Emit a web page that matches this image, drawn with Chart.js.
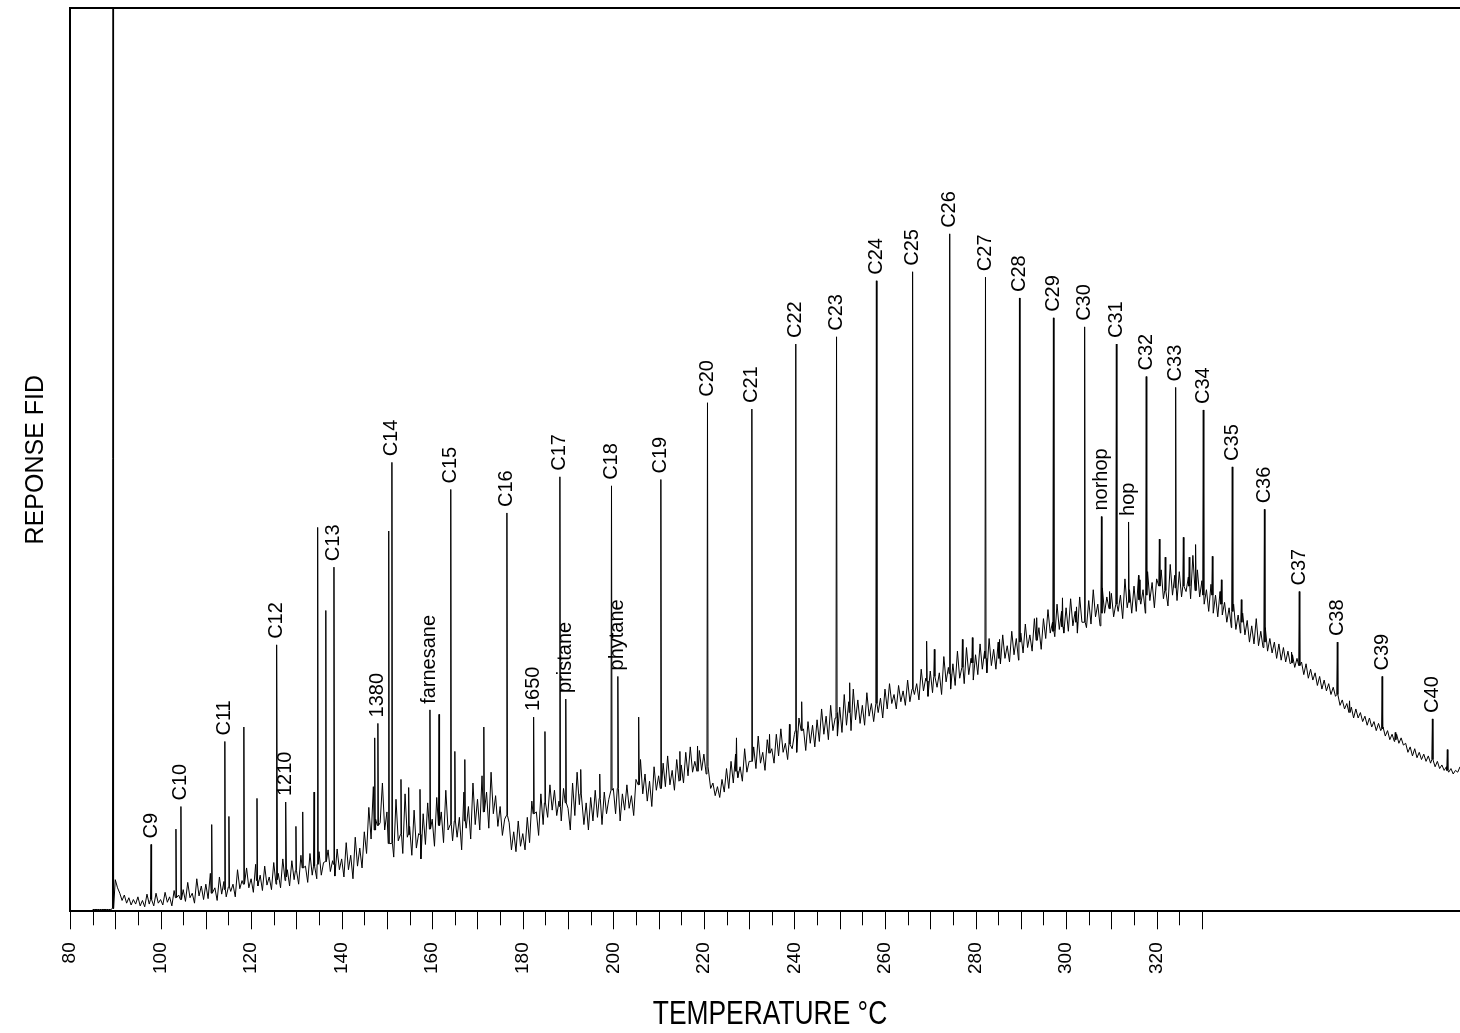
<!DOCTYPE html>
<html>
<head>
<meta charset="utf-8">
<script src="https://cdn.jsdelivr.net/npm/chart.js@4.4.1/dist/chart.umd.min.js"></script>
<style>
  html, body { margin: 0; padding: 0; background: #fff; }
</style>
</head>
<body>
<canvas id="gc" width="1460" height="1033"></canvas>
<script>
// ---------------------------------------------------------------- data
// FID signal, one value every half degree from 85 degC
const traceStart = 85
const traceStep = 0.5
const traceValues = [
  0.2, 0.2, 0.2, 0.2, 0.2, 0.2, 0.2, 0.2, 0.2, 0.3,
  3.5, 2.6, 2.0, 1.2, 1.8, 0.9, 1.5, 0.7, 1.3, 0.8,
  1.6, 0.6, 1.2, 0.5, 1.9, 0.8, 1.4, 0.6, 2.0, 0.9,
  1.3, 0.7, 2.1, 1.0, 1.6, 0.6, 2.3, 1.2, 1.8, 0.9,
  2.4, 1.1, 3.2, 1.5, 2.0, 0.9, 3.6, 1.7, 2.8, 1.3,
  3.0, 1.4, 4.2, 2.0, 2.6, 1.2, 3.8, 1.9, 3.3, 1.6,
  4.4, 2.2, 3.0, 1.6, 4.6, 2.5, 3.4, 1.8, 4.8, 2.6,
  3.6, 2.1, 5.2, 2.8, 4.0, 2.3, 5.0, 2.9, 3.8, 2.4,
  5.4, 3.0, 4.2, 2.6, 5.8, 3.4, 4.6, 2.8, 5.6, 3.5,
  4.4, 3.0, 6.2, 3.6, 5.0, 3.2, 6.4, 4.0, 5.2, 3.6,
  6.6, 4.0, 5.4, 3.8, 6.8, 4.4, 5.6, 3.9, 6.9, 4.6,
  5.8, 3.8, 7.6, 4.6, 6.2, 3.6, 8.2, 5.0, 7.0, 4.8,
  8.8, 6.4, 11.5, 8.0, 13.8, 10.2, 15.5, 9.8, 14.2, 9.0,
  11.0, 7.2, 9.6, 6.0, 12.4, 7.8, 10.6, 6.4, 13.0, 8.2,
  9.4, 6.2, 11.2, 7.0, 8.6, 5.8, 10.8, 7.4, 12.0, 8.0,
  10.2, 7.2, 12.6, 8.4, 11.0, 7.6, 13.4, 9.0, 10.6, 7.8,
  12.8, 8.2, 10.4, 6.8, 13.2, 9.2, 11.6, 8.0, 14.2, 9.6,
  12.4, 9.0, 15.0, 10.4, 13.2, 9.2, 15.4, 10.8, 12.8, 9.4,
  11.6, 8.4, 10.2, 7.4, 9.8, 6.8, 8.8, 6.6, 10.0, 7.2,
  8.6, 6.8, 10.4, 7.6, 12.2, 8.8, 11.0, 8.4, 13.0, 9.6,
  12.8, 10.4, 14.0, 11.2, 13.4, 10.6, 12.2, 10.0, 13.6, 11.0,
  11.4, 9.0, 14.2, 10.6, 15.4, 11.8, 13.0, 9.6, 12.0, 9.0,
  12.6, 10.0, 13.4, 10.4, 11.6, 9.6, 13.2, 10.8, 12.4, 10.2,
  13.6, 10.8, 12.2, 10.0, 13.0, 11.2, 14.0, 11.4, 12.8, 10.6,
  14.6, 12.0, 16.8, 13.0, 15.2, 12.2, 14.4, 11.6, 16.0, 13.4,
  15.0, 13.2, 16.4, 13.8, 17.2, 14.0, 15.6, 13.4, 16.8, 14.4,
  16.2, 14.2, 17.6, 15.0, 18.2, 15.4, 16.6, 14.6, 17.8, 15.6,
  17.4, 15.2, 16.0, 13.6, 14.2, 12.8, 13.8, 12.6, 14.6, 13.2,
  15.8, 13.6, 16.6, 14.2, 17.4, 14.8, 16.0, 14.4, 18.0, 15.4,
  16.6, 15.0, 18.2, 15.8, 19.4, 16.4, 17.6, 15.6, 19.0, 16.8,
  18.0, 16.4, 19.6, 17.2, 20.2, 17.6, 18.6, 16.8, 20.4, 18.0,
  19.6, 17.6, 21.4, 18.4, 20.2, 17.8, 21.0, 18.6, 20.6, 18.2,
  21.2, 18.8, 22.4, 19.6, 21.6, 19.0, 22.8, 20.0, 21.4, 19.4,
  22.6, 19.8, 24.0, 20.6, 23.2, 20.0, 24.6, 21.2, 23.4, 20.8,
  22.8, 20.6, 24.2, 21.6, 23.0, 21.0, 24.8, 22.0, 23.6, 21.4,
  24.6, 22.4, 25.2, 23.0, 24.0, 22.4, 25.0, 23.2, 24.4, 22.8,
  25.6, 23.2, 26.4, 24.0, 25.2, 23.4, 26.8, 24.4, 25.8, 23.8,
  26.6, 24.2, 27.8, 24.8, 26.4, 24.0, 28.2, 25.4, 27.0, 24.6,
  27.4, 25.0, 28.8, 25.8, 27.2, 25.2, 29.2, 26.2, 28.0, 25.6,
  28.4, 26.2, 29.6, 26.8, 28.8, 26.4, 30.2, 27.2, 29.0, 26.8,
  29.8, 27.4, 30.6, 28.0, 29.4, 27.6, 31.0, 28.4, 30.2, 27.8,
  30.8, 28.6, 31.8, 29.2, 30.6, 28.8, 32.4, 29.8, 31.4, 29.0,
  32.4, 30.2, 33.4, 30.8, 32.0, 30.4, 34.0, 31.2, 33.2, 30.8,
  33.6, 31.0, 34.6, 31.6, 33.2, 30.8, 34.8, 32.0, 33.8, 31.4,
  34.4, 31.8, 35.6, 32.6, 34.0, 31.6, 35.8, 33.0, 34.8, 32.2,
  35.2, 32.6, 36.4, 33.2, 35.0, 32.4, 36.8, 33.6, 35.6, 33.0,
  36.0, 33.2, 37.2, 34.0, 35.6, 33.0, 37.6, 34.4, 36.4, 33.6,
  36.8, 34.0, 37.8, 34.6, 36.2, 33.8, 38.4, 35.0, 37.2, 34.4,
  37.6, 34.8, 38.8, 35.4, 37.0, 34.6, 39.4, 35.6, 37.8, 34.8,
  36.6, 34.0, 35.6, 33.2, 36.2, 33.0, 35.0, 32.6, 35.4, 32.8,
  34.2, 32.0, 33.6, 31.4, 34.0, 31.2, 32.8, 30.8, 33.0, 30.6,
  32.2, 29.8, 31.6, 29.6, 32.4, 29.4, 31.0, 29.2, 31.4, 28.8,
  30.2, 28.6, 29.8, 28.0, 29.6, 27.8, 29.2, 27.6, 28.8, 27.4,
  28.4, 27.0, 28.0, 26.6, 27.6, 26.2, 27.4, 25.8, 26.8, 25.6,
  26.4, 25.0, 26.0, 24.6, 25.6, 24.4, 25.2, 24.0, 24.8, 23.8,
  24.0, 22.8, 23.4, 22.4, 23.0, 21.8, 22.6, 21.4, 22.4, 21.4,
  22.0, 21.0, 21.6, 20.6, 21.4, 20.4, 21.0, 20.0, 20.8, 20.0,
  20.4, 19.4, 20.0, 19.0, 19.6, 18.8, 19.6, 18.6, 19.2, 18.4,
  18.6, 17.6, 18.2, 17.2, 18.0, 17.0, 17.6, 16.8, 17.4, 16.6,
  17.2, 16.4, 16.8, 16.0, 16.6, 15.8, 16.2, 15.6, 16.0, 15.4,
  15.8, 15.2, 15.6, 15.4, 16.0
]

// labelled peaks
const peakNames = ['C9', 'C10', 'C11', 'C12', '1210', 'C13', '1380', 'C14', 'farnesane', 'C15',
  'C16', '1650', 'C17', 'pristane', 'C18', 'phytane', 'C19', 'C20', 'C21', 'C22',
  'C23', 'C24', 'C25', 'C26', 'C27', 'C28', 'C29', 'C30', 'norhop', 'C31',
  'hop', 'C32', 'C33', 'C34', 'C35', 'C36', 'C37', 'C38', 'C39', 'C40']
const peakTemps = [97.9, 104.5, 114.2, 125.7, 127.7, 138.3, 148.0, 151.1, 159.5, 164.1,
  176.5, 182.4, 188.2, 189.5, 199.6, 201.0, 210.5, 220.8, 230.6, 240.3,
  249.3, 258.1, 266.1, 274.3, 282.2, 289.7, 297.2, 304.1, 307.8, 311.1,
  313.8, 317.7, 324.2, 330.3, 336.7, 343.8, 351.5, 359.9, 369.8, 380.9]
const peakTops = [7.4, 11.6, 18.8, 29.5, 12.1, 38.1, 20.8, 49.7, 22.3, 46.7,
  44.1, 21.5, 48.1, 23.5, 47.1, 26.0, 47.8, 56.3, 55.6, 62.8,
  63.6, 69.8, 70.8, 75.0, 70.2, 67.9, 65.7, 64.7, 43.7, 62.8,
  43.1, 59.2, 58.0, 55.5, 49.2, 44.5, 35.4, 29.8, 26.0, 21.3]
const peakFeet = [1.3, 1.3, 2.4, 3.5, 3.8, 5.2, 9.5, 7.5, 9.1, 9.6,
  10.6, 10.8, 11.6, 12.0, 13.4, 13.6, 13.6, 16.0, 16.6, 20.0,
  22.0, 23.0, 24.6, 26.3, 28.0, 29.8, 31.0, 32.0, 33.0, 34.0,
  34.2, 35.0, 35.8, 35.0, 33.2, 29.8, 27.2, 24.0, 20.2, 16.8]

// unlabelled peaks (first one is the solvent)
const minorTemps = [89.5, 103.4, 111.3, 115.1, 118.4, 121.3, 129.9, 131.4, 133.9, 134.7,
  136.5, 147.3, 150.4, 153.1, 154.8, 157.3, 161.5, 165.0, 167.2, 171.4,
  184.9, 192.8, 197.0, 205.6, 214.7, 218.6, 227.2, 234.5, 238.9, 241.6,
  252.2, 269.2, 270.9, 277.1, 279.3, 285.3, 293.5, 299.2, 302.3, 309.6,
  316.2, 320.6, 321.9, 325.9, 327.2, 328.6, 332.3, 334.3, 338.7, 349.8,
  362.6, 372.7, 384.2]
const minorTops = [100, 9.1, 9.6, 10.5, 20.4, 12.5, 9.4, 11.0, 13.2, 42.5,
  33.3, 19.2, 42.1, 14.6, 13.7, 13.5, 21.8, 17.7, 16.8, 20.4,
  19.9, 15.7, 15.2, 21.5, 17.7, 18.3, 19.2, 19.6, 20.7, 23.2,
  25.3, 29.9, 29.0, 30.1, 30.3, 30.1, 32.5, 34.7, 33.7, 35.4,
  36.7, 41.2, 39.2, 41.4, 39.2, 40.6, 39.3, 36.7, 34.5, 28.7,
  23.3, 19.8, 17.9]
const minorFeet = [0.3, 1.5, 2.0, 2.7, 3.0, 3.4, 4.5, 4.8, 5.0, 5.2,
  5.5, 9.0, 7.5, 8.5, 8.5, 8.5, 9.5, 10.0, 10.0, 11.0,
  12.0, 13.0, 12.5, 14.0, 14.5, 15.5, 15.5, 17.5, 18.5, 20.0,
  22.0, 25.5, 26.0, 27.0, 27.5, 28.0, 30.0, 31.5, 32.0, 33.5,
  34.5, 36.0, 35.5, 36.0, 36.0, 35.5, 35.0, 34.0, 32.0, 27.5,
  22.0, 19.0, 15.6]

// x axis
const xTickLabels = [80, 100, 120, 140, 160, 180, 200, 220, 240, 260, 280, 300, 320]
const tickMarks = []
for (let t = 80; t <= 330; t += 5) tickMarks.push(t)

// ---------------------------------------------------------------- build the trace
const allPeaks = peakTemps.concat(minorTemps)
const points = []
traceValues.forEach((v, i) => {
    const t = traceStart + i * traceStep
    if (allPeaks.some(p => Math.abs(p - t) < 0.15)) return
    points.push({x: t, y: v})
})
function addPeak(t, top, foot) {
    points.push({x: t - 0.12, y: foot}, {x: t, y: top}, {x: t + 0.12, y: foot})
}
peakTemps.forEach((t, i) => addPeak(t, peakTops[i], peakFeet[i]))
minorTemps.forEach((t, i) => addPeak(t, minorTops[i], minorFeet[i]))
points.sort((a, b) => a.x - b.x)

const labelFont = '20px "Liberation Sans", Arial, sans-serif'

// frame top, tick marks, peak names, x title
const decorations = {
    id: 'decorations',
    afterDraw(chart) {
        const {ctx, chartArea: a, scales: {x, y}} = chart
        ctx.save()
        ctx.strokeStyle = '#000'
        ctx.lineWidth = 2
        ctx.beginPath()
        ctx.moveTo(a.left - 1, a.top)
        ctx.lineTo(a.right, a.top)
        ctx.stroke()

        ctx.lineWidth = 1
        tickMarks.forEach(v => {
            const px = Math.round(x.getPixelForValue(v)) + 0.5
            ctx.beginPath()
            ctx.moveTo(px, a.bottom)
            ctx.lineTo(px, a.bottom + (v % 10 === 0 ? 18 : 14))
            ctx.stroke()
        })

        ctx.fillStyle = '#000'
        ctx.font = labelFont
        ctx.textAlign = 'left'
        ctx.textBaseline = 'middle'
        peakNames.forEach((name, i) => {
            const px = x.getPixelForValue(peakTemps[i])
            const py = y.getPixelForValue(peakTops[i]) - 6
            ctx.save()
            ctx.translate(px, py)
            ctx.rotate(-Math.PI / 2)
            ctx.fillText(name, 0, 0)
            ctx.restore()
        })

        // condensed axis title
        ctx.save()
        ctx.translate(770, chart.height - 9)
        ctx.scale(0.8, 1)
        ctx.font = '33px "Liberation Sans", Arial, sans-serif'
        ctx.textAlign = 'center'
        ctx.textBaseline = 'alphabetic'
        ctx.fillText('TEMPERATURE °C', 0, 0)
        ctx.restore()
        ctx.restore()
    }
}

new Chart(document.getElementById('gc'), {
    type: 'line',
    data: {
        datasets: [{
            data: points,
            borderColor: '#000',
            borderWidth: 1,
            pointRadius: 0,
            tension: 0,
            fill: false
        }]
    },
    options: {
        responsive: false,
        animation: false,
        parsing: false,
        layout: {padding: {left: 21, top: 8, right: 0, bottom: 46}},
        plugins: {legend: {display: false}, tooltip: {enabled: false}},
        scales: {
            x: {
                type: 'linear',
                min: 80,
                max: 387,
                afterBuildTicks: scale => { scale.ticks = tickMarks.map(v => ({value: v})) },
                grid: {display: false, drawTicks: true, tickLength: 18},
                border: {display: true, color: '#000', width: 2},
                ticks: {
                    autoSkip: false,
                    minRotation: 90,
                    maxRotation: 90,
                    padding: 13,
                    color: '#000',
                    font: {family: '"Liberation Sans", Arial, sans-serif', size: 19},
                    callback: v => xTickLabels.includes(v) ? String(v) : ''
                }
            },
            y: {
                min: 0,
                max: 100,
                grid: {display: false, drawTicks: false},
                border: {display: true, color: '#000', width: 2},
                ticks: {display: false},
                title: {
                    display: true,
                    text: 'REPONSE FID',
                    color: '#000',
                    font: {family: '"Liberation Sans", Arial, sans-serif', size: 25},
                    padding: {top: 0, bottom: 19}
                }
            }
        }
    },
    plugins: [decorations]
})
</script>
</body>
</html>
